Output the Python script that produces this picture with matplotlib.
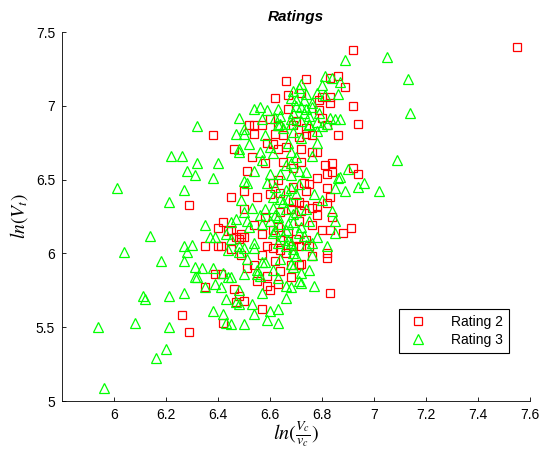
import matplotlib
matplotlib.use("Agg")
import matplotlib.pyplot as plt

# Rating 2 (red squares): ln(Vc/vc), ln(Vt)
r2_x = [7.55, 6.92, 6.66, 6.74, 6.86, 6.83, 6.89, 6.72, 6.62, 6.67, 6.80, 6.83, 6.83, 6.79,
        6.67, 6.79, 6.92, 6.60, 6.80, 6.94, 6.52, 6.54, 6.63, 6.69, 6.74, 6.82, 6.86, 6.46,
        6.59, 6.61, 6.63, 6.57, 6.74, 6.54, 6.62, 6.65, 6.71, 6.72, 6.76, 6.78, 6.53, 6.65,
        6.58, 6.81, 6.84, 6.92, 6.94, 6.82, 6.84, 6.51, 6.78, 6.73, 6.75, 6.61, 6.82, 6.69,
        6.50, 6.55, 6.45, 6.64, 6.69, 6.71, 6.73, 6.83, 6.82, 6.78, 6.76, 6.78, 6.50, 6.84,
        6.72, 6.76, 6.80, 6.83, 6.88, 6.91, 6.57, 6.61, 6.49, 6.45, 6.54, 6.64, 6.74, 6.71,
        6.47, 6.59, 6.83, 6.57, 6.51, 6.55, 6.59, 6.60, 6.63, 6.59, 6.64, 6.62, 6.57, 6.68,
        6.72, 6.76, 6.82, 6.82, 6.46, 6.48, 6.50, 6.47, 6.49, 6.61, 6.64, 6.69, 6.54, 6.71,
        6.29, 6.42, 6.40, 6.44, 6.48, 6.49, 6.50, 6.35, 6.40, 6.41, 6.45, 6.39, 6.41, 6.26,
        6.29, 6.35, 6.42, 6.38,
        6.68, 6.64, 6.71, 6.67, 6.63, 6.70, 6.66, 6.74, 6.69, 6.72, 6.66, 6.70, 6.76, 6.63,
        6.60, 6.58, 6.75, 6.68]
r2_y = [7.40, 7.38, 7.17, 7.18, 7.20, 7.19, 7.13, 7.09, 7.05, 7.07, 7.06, 7.06, 7.02, 7.04,
        6.98, 6.97, 7.00, 6.91, 6.92, 6.88, 6.87, 6.87, 6.86, 6.87, 6.85, 6.87, 6.80, 6.71,
        6.75, 6.74, 6.71, 6.87, 6.81, 6.81, 6.81, 6.80, 6.79, 6.71, 6.69, 6.69, 6.65, 6.62,
        6.61, 6.60, 6.61, 6.58, 6.54, 6.54, 6.55, 6.56, 6.51, 6.48, 6.47, 6.48, 6.44, 6.45,
        6.42, 6.38, 6.38, 6.41, 6.35, 6.35, 6.33, 6.38, 6.34, 6.32, 6.31, 6.26, 6.30, 6.25,
        6.29, 6.19, 6.16, 6.16, 6.14, 6.17, 6.13, 6.16, 6.13, 6.16, 6.19, 6.09, 6.09, 6.05,
        6.11, 6.05, 5.73, 5.62, 5.90, 5.81, 5.78, 5.75, 5.79, 5.85, 5.88, 5.95, 5.99, 5.92,
        5.93, 5.98, 6.00, 5.97, 5.76, 5.71, 5.68, 5.67, 5.99, 6.04, 6.02, 6.05, 5.92, 5.92,
        6.33, 6.21, 6.17, 6.15, 6.10, 6.11, 6.11, 6.05, 6.05, 6.05, 6.03, 5.86, 5.86, 5.58,
        5.47, 5.77, 5.53, 6.80,
        6.30, 6.28, 6.22, 6.14, 6.18, 6.10, 6.00, 6.42, 6.58, 6.62, 6.72, 6.90, 6.80, 6.50,
        6.40, 6.25, 6.05, 5.84]

# Rating 3 (green triangles)
r3_x = [5.94, 5.96, 6.08, 6.11, 6.12, 6.21, 6.21, 6.20, 6.16, 6.27, 6.31, 6.32, 6.35, 6.38,
        6.39, 6.42, 6.43, 6.41, 6.44, 6.48, 6.47, 6.50, 6.43, 6.50, 7.05, 7.13, 7.14, 7.09,
        7.02, 6.89, 6.72, 6.81, 6.84, 6.87, 6.80, 6.69, 6.74, 6.78, 6.81, 6.86, 6.68, 6.70,
        6.73, 6.70, 6.72, 6.74, 6.63, 6.76, 6.54, 6.56, 6.59, 6.64, 6.69, 6.75, 6.48, 6.57,
        6.83, 6.85, 6.87, 6.78, 6.68, 6.72, 6.64, 6.75, 6.80, 6.78, 6.52, 6.48, 6.56, 6.61,
        6.68, 6.67, 6.76, 6.47, 6.50, 6.63, 6.68, 6.75, 6.82, 6.78, 6.57, 6.68, 6.54, 6.60,
        6.64, 6.68, 6.71, 6.90, 6.86, 6.87, 6.96, 6.94, 6.89, 6.85, 6.50, 6.51, 6.59, 6.68,
        6.66, 6.61, 6.49, 6.64, 6.67, 6.80, 6.47, 6.53, 6.61, 6.66, 6.84, 6.56, 6.62, 6.69,
        6.85, 6.52, 6.64, 6.69, 6.75, 6.61, 6.66, 6.71, 6.78, 6.85, 6.54, 6.67, 6.76, 6.82,
        6.48, 6.45, 6.45, 6.57, 6.66, 6.68, 6.71, 6.72, 6.77, 6.66, 6.53, 6.48, 6.54, 6.60,
        6.63, 6.59, 6.63, 6.45, 6.75, 6.69, 6.69, 6.68, 6.57, 6.55, 6.55, 6.56, 6.63, 6.58,
        6.54, 6.50, 6.76, 6.74, 6.45, 6.63, 6.68, 6.01, 6.04, 6.14, 6.18, 6.21, 6.22, 6.26,
        6.32, 6.28, 6.31, 6.27, 6.38, 6.40, 6.35, 6.37, 6.39, 6.27, 6.30, 6.28, 6.27, 6.31,
        6.34, 6.38, 6.42, 6.44, 6.48, 6.43, 6.51, 6.50, 6.51, 6.32, 6.50, 6.48,
        6.62, 6.65, 6.70, 6.63, 6.67, 6.70, 6.72, 6.65, 6.69, 6.62, 6.66, 6.73, 6.60, 6.58,
        6.71, 6.74, 6.66, 6.70, 6.72, 6.69, 6.65, 6.73, 6.71, 6.76, 6.79, 6.62, 6.58, 6.60,
        6.70, 6.64, 6.72, 6.61, 6.77, 6.74, 6.57]
r3_y = [5.50, 5.09, 5.53, 5.71, 5.69, 5.71, 5.50, 5.35, 5.29, 5.73, 5.84, 5.84, 5.77, 5.61,
        5.79, 5.59, 5.53, 5.77, 5.84, 5.75, 5.67, 5.52, 5.69, 5.86, 7.33, 7.18, 6.95, 6.63,
        6.42, 7.31, 7.15, 7.20, 7.19, 7.16, 7.14, 7.10, 7.08, 7.09, 7.07, 7.08, 7.05, 7.04,
        7.04, 7.00, 6.99, 6.98, 6.98, 6.99, 6.98, 6.99, 6.97, 6.93, 6.95, 6.93, 6.92, 6.91,
        6.92, 6.91, 6.91, 6.89, 6.91, 6.90, 6.88, 6.87, 6.86, 6.75, 6.74, 6.69, 6.69, 6.68,
        6.69, 6.75, 6.66, 6.81, 6.81, 6.87, 6.88, 6.88, 6.88, 6.83, 6.63, 6.61, 6.56, 6.54,
        6.54, 6.53, 6.56, 6.57, 6.51, 6.52, 6.48, 6.45, 6.42, 6.44, 6.49, 6.48, 6.48, 6.44,
        6.43, 6.38, 6.36, 6.37, 6.37, 6.36, 6.23, 6.31, 6.31, 6.30, 6.29, 6.26, 6.26, 6.27,
        6.22, 6.18, 6.20, 6.21, 6.22, 6.14, 6.16, 6.14, 6.11, 6.14, 6.07, 6.09, 6.07, 6.05,
        6.05, 6.21, 6.10, 5.73, 5.78, 5.77, 5.81, 5.80, 5.78, 5.70, 5.66, 5.66, 5.59, 5.61,
        5.62, 5.55, 5.53, 5.52, 5.89, 6.00, 5.91, 5.93, 5.94, 5.89, 5.86, 5.85, 5.83, 5.94,
        6.04, 6.04, 5.99, 6.06, 5.84, 6.07, 6.07, 6.44, 6.01, 6.12, 5.95, 6.35, 6.66, 6.66,
        6.61, 6.56, 6.53, 6.43, 6.51, 6.61, 6.19, 6.11, 6.11, 6.05, 6.06, 6.01, 5.95, 5.91,
        5.90, 5.90, 5.87, 6.02, 6.01, 6.13, 5.96, 6.28, 6.22, 6.86, 6.84, 6.71,
        6.45, 6.35, 6.40, 6.25, 6.20, 6.28, 6.18, 6.12, 6.03, 6.15, 6.05, 6.12, 6.22, 6.30,
        6.47, 6.55, 6.60, 6.65, 6.78, 6.82, 6.85, 6.95, 7.12, 7.02, 6.95, 6.92, 6.80, 6.72,
        5.98, 5.96, 5.87, 5.89, 6.40, 6.30, 6.20]

plt.rcParams['font.family'] = ['Liberation Sans', 'DejaVu Sans']
plt.rcParams['mathtext.fontset'] = 'stix'

fig = plt.figure(figsize=(5.48, 4.49), dpi=100)
ax = fig.add_axes([0.1131, 0.1069, 0.854, 0.8218])

ax.plot(r2_x, r2_y, 's', mfc='none', mec=(1, 0, 0), ms=5.8, mew=0.9, label='Rating 2')
ax.plot(r3_x, r3_y, '^', mfc='none', mec=(0, 1, 0), ms=6.8, mew=0.9, label='Rating 3')

ax.set_xlim(5.8, 7.6)
ax.set_ylim(5, 7.5)
ax.set_xticks([6, 6.2, 6.4, 6.6, 6.8, 7, 7.2, 7.4, 7.6])
ax.set_xticklabels(['6', '6.2', '6.4', '6.6', '6.8', '7', '7.2', '7.4', '7.6'])
ax.set_yticks([5, 5.5, 6, 6.5, 7, 7.5])
ax.set_yticklabels(['5', '5.5', '6', '6.5', '7', '7.5'])
ax.tick_params(direction='in', length=3, width=0.6, labelsize=10, pad=5)
ax.spines['top'].set_visible(False)
ax.spines['right'].set_visible(False)
for s in ['left', 'bottom']:
    ax.spines[s].set_linewidth(0.6)

ax.set_title('Ratings', fontsize=11, fontweight='bold', fontstyle='italic', pad=8)
ax.set_xlabel(r'$ln(\frac{V_c}{v_c})$', fontsize=14.5, labelpad=-2)
ax.set_ylabel(r'$ln(V_t)$', fontsize=14)

leg = ax.legend(loc='lower right', bbox_to_anchor=(0.955, 0.131), borderaxespad=0,
                fancybox=False, edgecolor='black', framealpha=1, fontsize=10,
                handlelength=2.0, handletextpad=1.4, borderpad=0.4, labelspacing=0.3)
leg.get_frame().set_linewidth(0.8)

fig.savefig('out.png', dpi=100)
